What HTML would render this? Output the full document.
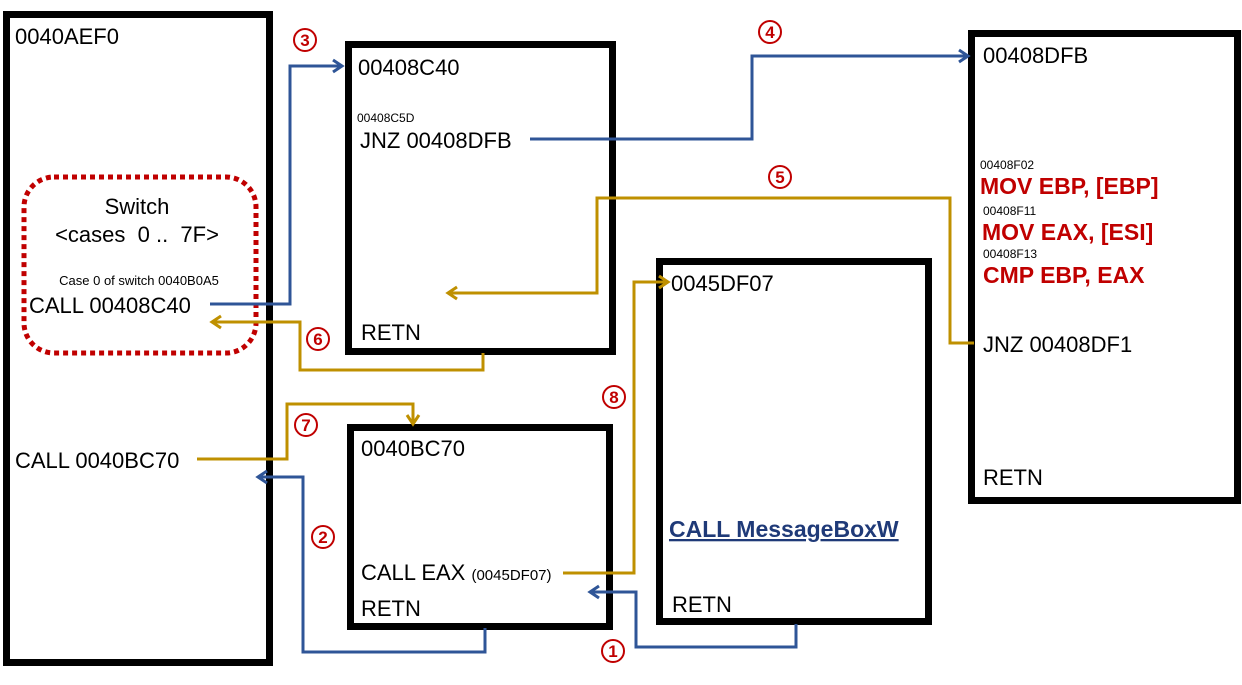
<!DOCTYPE html>
<html><head><meta charset="utf-8"><style>
html,body{margin:0;padding:0;background:#fff}
svg{display:block}
text{font-family:"Liberation Sans","NanumGothic",sans-serif;fill:#000}
.r{fill:#c00000;font-weight:bold;font-size:23px}
.c circle{fill:#fff;stroke:#c00000;stroke-width:2}
.c text{fill:#c00000;font-size:17px;font-weight:bold;text-anchor:middle}
</style></head><body>
<svg width="1242" height="685" viewBox="0 0 1242 685" xmlns="http://www.w3.org/2000/svg">
<defs>
<marker id="ab" markerWidth="16" markerHeight="16" refX="12" refY="8" orient="auto" markerUnits="userSpaceOnUse"><path d="M3,2 L12,8 L3,14" fill="none" stroke="#2f5597" stroke-width="3"/></marker>
<marker id="ag" markerWidth="16" markerHeight="16" refX="12" refY="8" orient="auto" markerUnits="userSpaceOnUse"><path d="M3,2 L12,8 L3,14" fill="none" stroke="#bf9000" stroke-width="3"/></marker>
</defs>
<g fill="none" stroke="#000" stroke-width="7">
<rect x="6.5" y="14.5" width="263" height="648"/>
<rect x="348.5" y="44.5" width="264" height="307"/>
<rect x="350.5" y="427.5" width="259" height="199"/>
<rect x="659.5" y="261.5" width="269" height="360"/>
<rect x="971.5" y="33.5" width="266" height="467"/>
</g>
<rect x="24" y="177" width="232" height="176" rx="30" fill="none" stroke="#c00000" stroke-width="5" stroke-dasharray="5 4"/>
<g fill="none" stroke-width="3">
<polyline stroke="#2f5597" points="210,304 290,304 290,66 342,66" marker-end="url(#ab)"/>
<polyline stroke="#2f5597" points="530,139 752,139 752,56 968,56" marker-end="url(#ab)"/>
<polyline stroke="#bf9000" points="974,343 950,343 950,198 597,198 597,293 448,293" marker-end="url(#ag)"/>
<polyline stroke="#bf9000" points="483,353 483,370 300,370 300,322 212,322" marker-end="url(#ag)"/>
<polyline stroke="#bf9000" points="197,459 287,459 287,404 413,404 413,424" marker-end="url(#ag)"/>
<polyline stroke="#2f5597" points="485,628 485,652 303,652 303,477 258,477" marker-end="url(#ab)"/>
<polyline stroke="#bf9000" points="563,573 634,573 634,282 668,282" marker-end="url(#ag)"/>
<polyline stroke="#2f5597" points="796,624 796,647 636,647 636,592 590,592" marker-end="url(#ab)"/>
</g>
<g font-size="22">
<text x="15" y="44">0040AEF0</text>
<text x="358" y="75">00408C40</text>
<text x="360" y="148">JNZ 00408DFB</text>
<text x="361" y="340">RETN</text>
<text x="361" y="456">0040BC70</text>
<text x="361" y="580">CALL EAX <tspan font-size="15">(0045DF07)</tspan></text>
<text x="361" y="616">RETN</text>
<text x="671" y="291">0045DF07</text>
<text x="672" y="612">RETN</text>
<text x="983" y="63">00408DFB</text>
<text x="983" y="352">JNZ 00408DF1</text>
<text x="983" y="485">RETN</text>
<text x="15" y="468">CALL 0040BC70</text>
<text x="29" y="313">CALL 00408C40</text>
<text x="137" y="214" text-anchor="middle">Switch</text>
<text x="137" y="242" text-anchor="middle">&lt;cases&#160;&#160;0&#160;..&#160;&#160;7F&gt;</text>
</g>
<text x="139" y="285" text-anchor="middle" font-size="13">Case 0 of switch 0040B0A5</text>
<text x="357" y="122" font-size="12">00408C5D</text>
<text x="980" y="169" font-size="12">00408F02</text>
<text x="983" y="215" font-size="12">00408F11</text>
<text x="983" y="258" font-size="12">00408F13</text>
<text class="r" x="980" y="194">MOV EBP, [EBP]</text>
<text class="r" x="982" y="240">MOV EAX, [ESI]</text>
<text class="r" x="983" y="283">CMP EBP, EAX</text>
<text x="669" y="537" font-size="23" font-weight="bold" style="fill:#1f3a78;text-decoration:underline">CALL MessageBoxW</text>
<g class="c">
<circle cx="305" cy="40" r="11"/><text x="305" y="46">3</text>
<circle cx="770" cy="32" r="11"/><text x="770" y="38">4</text>
<circle cx="780" cy="177" r="11"/><text x="780" y="183">5</text>
<circle cx="318" cy="339" r="11"/><text x="318" y="345">6</text>
<circle cx="306" cy="425" r="11"/><text x="306" y="431">7</text>
<circle cx="614" cy="397" r="11"/><text x="614" y="403">8</text>
<circle cx="323" cy="537" r="11"/><text x="323" y="543">2</text>
<circle cx="613" cy="651" r="11"/><text x="613" y="657">1</text>
</g>
</svg>
</body></html>
